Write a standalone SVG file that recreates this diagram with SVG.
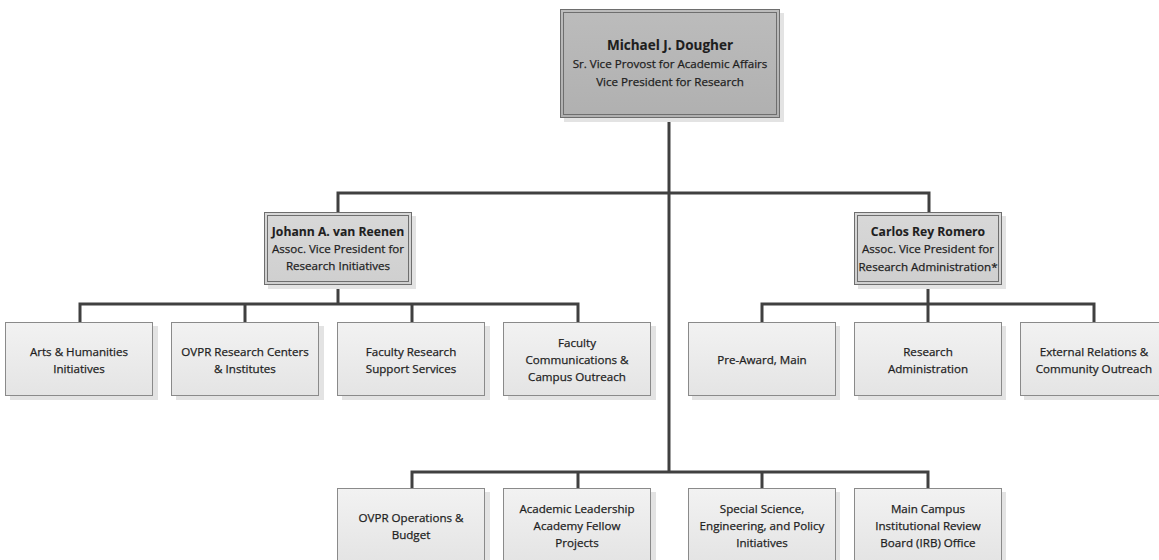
<svg xmlns="http://www.w3.org/2000/svg" width="1159" height="560" viewBox="0 0 1159 560">
<defs>
<linearGradient id="g" x1="0" y1="0" x2="0" y2="1">
<stop offset="0" stop-color="#f2f2f2"/>
<stop offset="1" stop-color="#e4e4e4"/>
</linearGradient>
<linearGradient id="gt" x1="0" y1="0" x2="0" y2="1">
<stop offset="0" stop-color="#bcbcbc"/>
<stop offset="1" stop-color="#b0b0b0"/>
</linearGradient>
<linearGradient id="gm" x1="0" y1="0" x2="0" y2="1">
<stop offset="0" stop-color="#d8d8d8"/>
<stop offset="1" stop-color="#cfcfcf"/>
</linearGradient>
</defs>
<style>
.sh{fill:#e3e3e3}
.box{fill:url(#g);stroke:#8a8a8a;stroke-width:1}
.top{fill:url(#gt);stroke:#6e6e6e;stroke-width:1}
.mid{fill:url(#gm);stroke:#6e6e6e;stroke-width:1}
.in{fill:none;stroke:#6e6e6e;stroke-width:1}
text{font-family:"Open Sans","Liberation Sans",sans-serif;font-size:11.6px;fill:#1e1e1e;stroke:#1e1e1e;stroke-width:0.25;text-anchor:middle}
.b{font-weight:bold;font-size:12.2px;stroke-width:0.1}
.bt{font-weight:bold;font-size:13.5px;stroke-width:0.1}
.ln{fill:none;stroke:#404040;stroke-width:3;stroke-linejoin:miter}
</style>
<rect width="1159" height="560" fill="#ffffff"/>
<g id="connectors">
<path class="ln" d="M669,118 V472"/>
<path class="ln" d="M338,212 V193 H929 V212"/>
<path class="ln" d="M80,322 V304 H578 V322"/>
<path class="ln" d="M245,304 V322 M412,304 V322"/>
<path class="ln" d="M338,285 V304"/>
<path class="ln" d="M762,322 V304 H1094 V322"/>
<path class="ln" d="M928,285 V322"/>
<path class="ln" d="M412,488 V472 H928 V488"/>
<path class="ln" d="M578,472 V488 M762,472 V488"/>
</g>
<g id="n-dougher">
<rect class="sh" x="564" y="13" width="220" height="109"/>
<rect class="top" x="560.5" y="9.5" width="219" height="108"/>
<rect class="in" x="563.5" y="12.5" width="213" height="102"/>
<text class="bt" x="670" y="50">Michael J. Dougher</text>
<text x="670" y="68">Sr. Vice Provost for Academic Affairs</text>
<text x="670" y="86">Vice President for Research</text>
</g>
<g id="n-vanreenen">
<rect class="sh" x="268" y="216" width="148" height="73"/>
<rect class="mid" x="264.5" y="212.5" width="147" height="72"/>
<rect class="in" x="267.5" y="215.5" width="141" height="66"/>
<text class="b" x="338" y="236">Johann A. van Reenen</text>
<text x="338" y="253">Assoc. Vice President for</text>
<text x="338" y="270">Research Initiatives</text>
</g>
<g id="n-romero">
<rect class="sh" x="858" y="216" width="148" height="73"/>
<rect class="mid" x="854.5" y="212.5" width="147" height="72"/>
<rect class="in" x="857.5" y="215.5" width="141" height="66"/>
<text class="b" x="928" y="236">Carlos Rey Romero</text>
<text x="928" y="253">Assoc. Vice President for</text>
<text x="928" y="271">Research Administration*</text>
</g>
<g id="n-arts">
<rect class="sh" x="10" y="326" width="148" height="74"/>
<rect class="box" x="5.5" y="322.5" width="147" height="73"/>
<text x="79" y="356">Arts &amp; Humanities</text>
<text x="79" y="373">Initiatives</text>
</g>
<g id="n-centers">
<rect class="sh" x="176" y="326" width="148" height="74"/>
<rect class="box" x="171.5" y="322.5" width="147" height="73"/>
<text x="245" y="356">OVPR Research Centers</text>
<text x="245" y="373">&amp; Institutes</text>
</g>
<g id="n-frss">
<rect class="sh" x="342" y="326" width="148" height="74"/>
<rect class="box" x="337.5" y="322.5" width="147" height="73"/>
<text x="411" y="356">Faculty Research</text>
<text x="411" y="373">Support Services</text>
</g>
<g id="n-fcco">
<rect class="sh" x="508" y="326" width="148" height="74"/>
<rect class="box" x="503.5" y="322.5" width="147" height="73"/>
<text x="577" y="347">Faculty</text>
<text x="577" y="364">Communications &amp;</text>
<text x="577" y="381">Campus Outreach</text>
</g>
<g id="n-preaward">
<rect class="sh" x="692" y="326" width="148" height="74"/>
<rect class="box" x="688.5" y="322.5" width="147" height="73"/>
<text x="762" y="364">Pre-Award, Main</text>
</g>
<g id="n-resadmin">
<rect class="sh" x="858" y="326" width="148" height="74"/>
<rect class="box" x="854.5" y="322.5" width="147" height="73"/>
<text x="928" y="356">Research</text>
<text x="928" y="373">Administration</text>
</g>
<g id="n-external">
<rect class="sh" x="1024" y="326" width="148" height="74"/>
<rect class="box" x="1020.5" y="322.5" width="147" height="73"/>
<text x="1094" y="356">External Relations &amp;</text>
<text x="1094" y="373">Community Outreach</text>
</g>
<g id="n-operations">
<rect class="sh" x="342" y="492" width="148" height="74"/>
<rect class="box" x="337.5" y="488.5" width="147" height="73"/>
<text x="411" y="522">OVPR Operations &amp;</text>
<text x="411" y="539">Budget</text>
</g>
<g id="n-leadership">
<rect class="sh" x="508" y="492" width="148" height="74"/>
<rect class="box" x="503.5" y="488.5" width="147" height="73"/>
<text x="577" y="513">Academic Leadership</text>
<text x="577" y="530">Academy Fellow</text>
<text x="577" y="547">Projects</text>
</g>
<g id="n-special">
<rect class="sh" x="692" y="492" width="148" height="74"/>
<rect class="box" x="688.5" y="488.5" width="147" height="73"/>
<text x="762" y="513">Special Science,</text>
<text x="762" y="530">Engineering, and Policy</text>
<text x="762" y="547">Initiatives</text>
</g>
<g id="n-irb">
<rect class="sh" x="858" y="492" width="148" height="74"/>
<rect class="box" x="854.5" y="488.5" width="147" height="73"/>
<text x="928" y="513">Main Campus</text>
<text x="928" y="530">Institutional Review</text>
<text x="928" y="547">Board (IRB) Office</text>
</g>
</svg>
